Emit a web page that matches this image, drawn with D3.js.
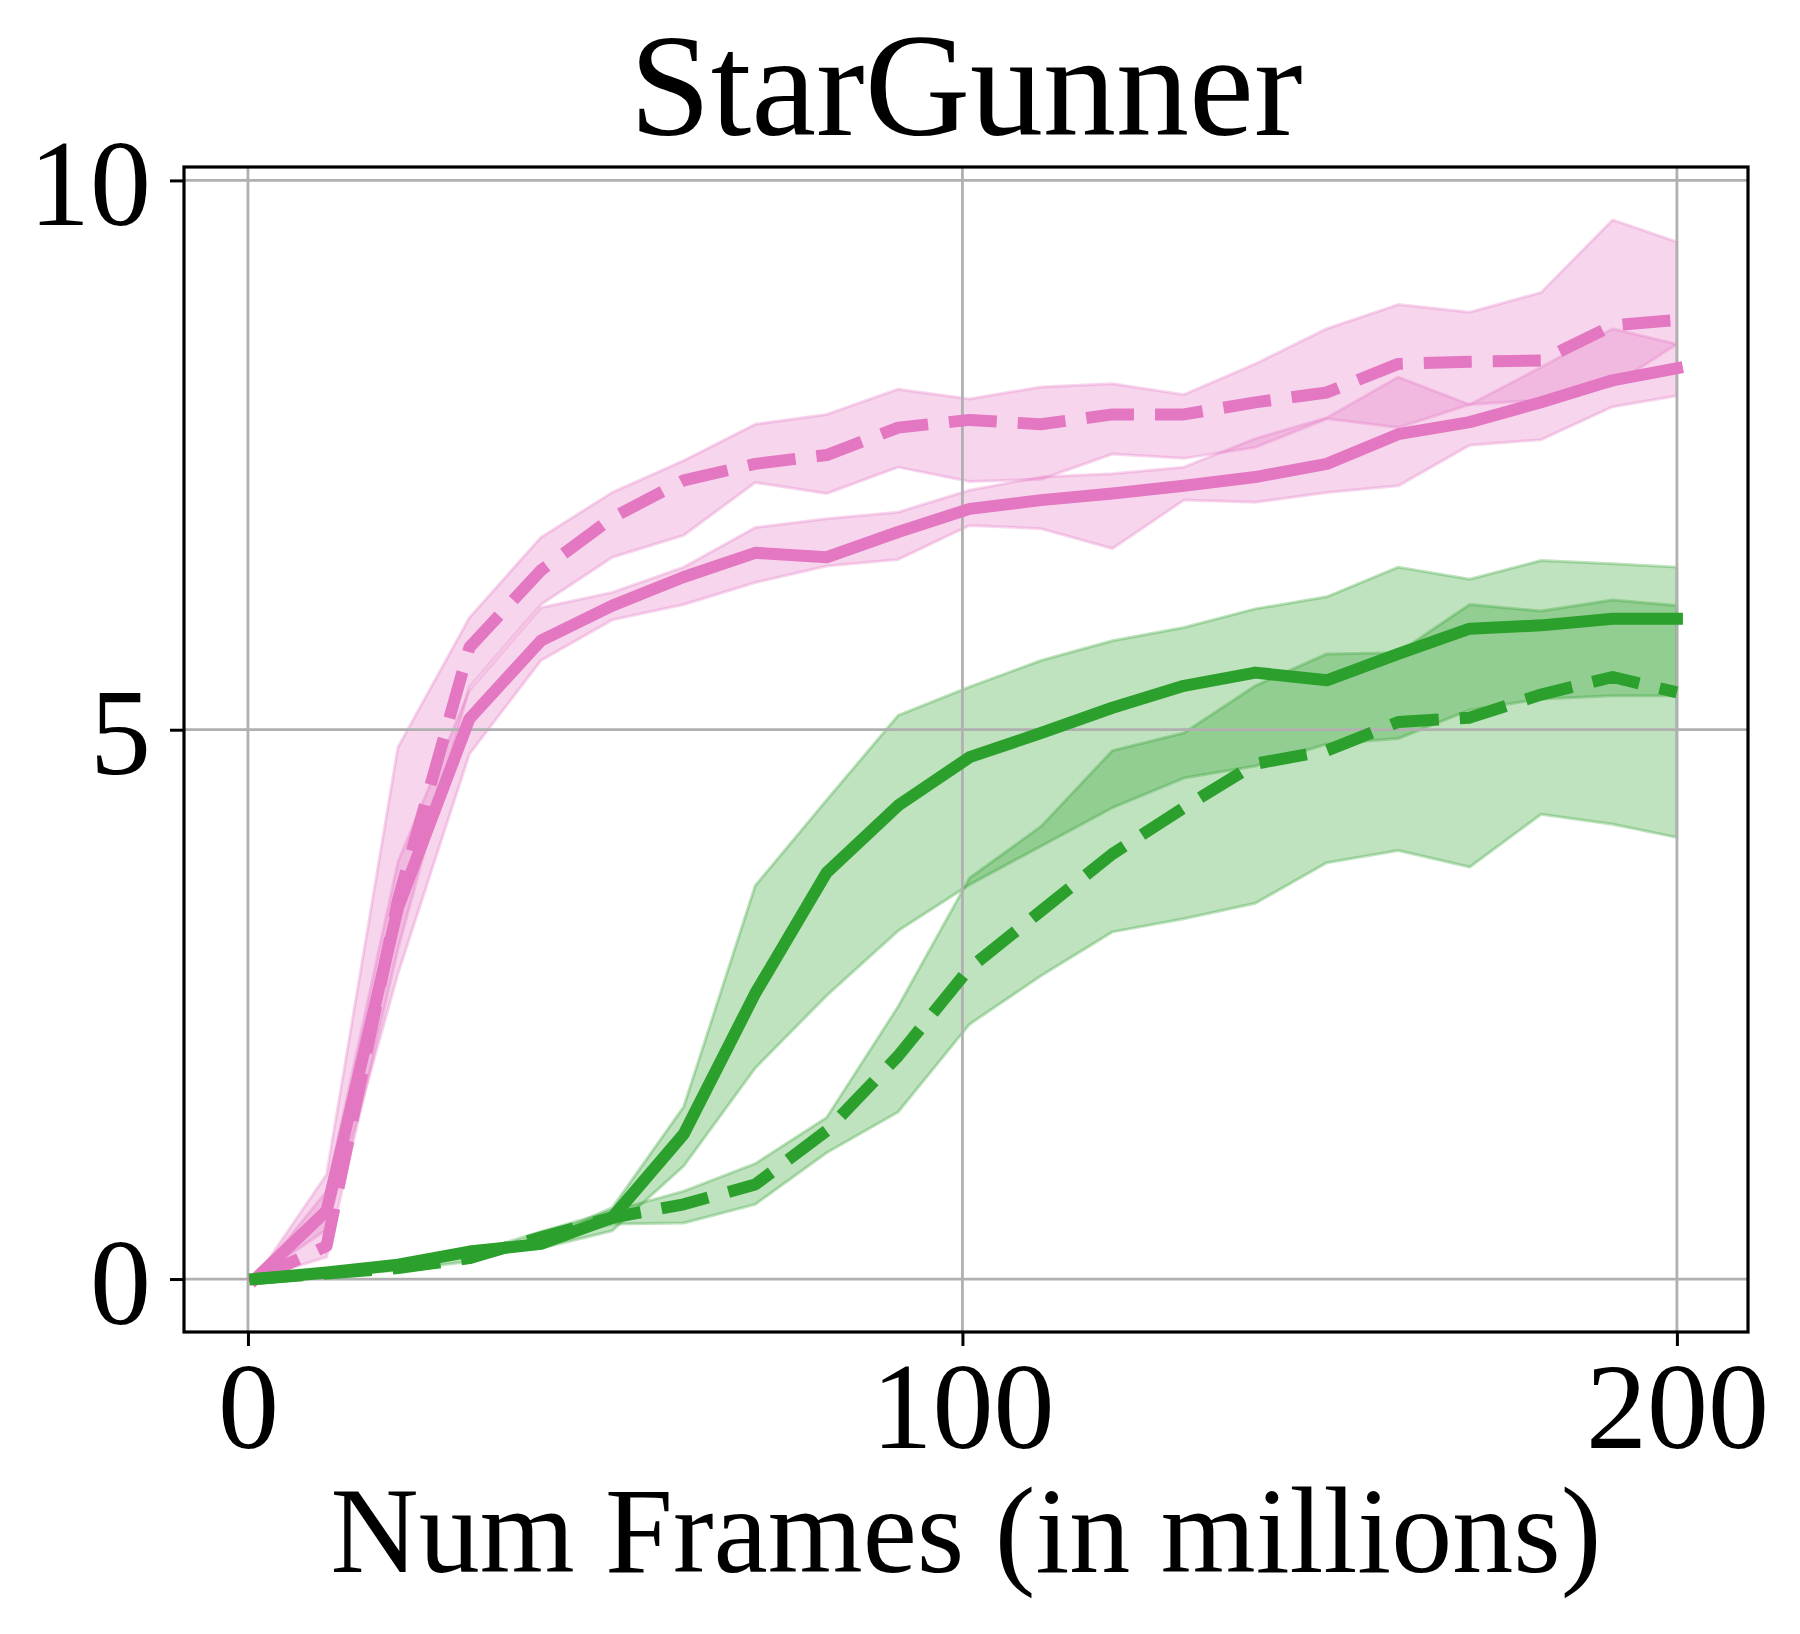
<!DOCTYPE html>
<html>
<head>
<meta charset="utf-8">
<script src="https://cdn.jsdelivr.net/npm/d3@7"></script>
<style>
  html, body { margin: 0; padding: 0; background: #ffffff; }
  svg { display: block; }
</style>
</head>
<body>
<svg id="chart" width="1800" height="1634"></svg>
<script>
// ---- data ----
const frames = [1, 11, 21, 31, 41, 51, 61, 71, 81, 91, 101, 111, 121, 131, 141, 151, 161, 171, 181, 191, 200];

const pinkSolidMean  = [0, 0.62, 3.38, 5.10, 5.81, 6.13, 6.39, 6.61, 6.57, 6.80, 7.01, 7.09, 7.15, 7.22, 7.30, 7.42, 7.69, 7.80, 7.98, 8.18, 8.29];
const pinkSolidLow   = [0, 0.45, 2.78, 4.78, 5.63, 6.00, 6.14, 6.34, 6.49, 6.55, 6.86, 6.83, 6.65, 7.09, 7.07, 7.16, 7.22, 7.59, 7.64, 7.94, 8.04];
const pinkSolidHigh  = [0, 0.80, 3.80, 5.36, 6.11, 6.25, 6.48, 6.84, 6.92, 6.98, 7.18, 7.30, 7.33, 7.39, 7.65, 7.84, 8.21, 7.96, 8.30, 8.65, 8.51];

const pinkDashMean   = [0, 0.30, 3.45, 5.75, 6.45, 6.93, 7.27, 7.42, 7.50, 7.75, 7.82, 7.78, 7.87, 7.87, 7.98, 8.07, 8.33, 8.35, 8.36, 8.68, 8.73];
const pinkDashLow    = [0, 0.20, 3.00, 5.39, 6.14, 6.57, 6.77, 7.25, 7.15, 7.39, 7.26, 7.28, 7.51, 7.47, 7.57, 7.83, 7.75, 7.96, 8.00, 8.13, 8.51];
const pinkDashHigh   = [0, 0.95, 4.84, 6.02, 6.75, 7.16, 7.45, 7.78, 7.87, 8.10, 8.01, 8.12, 8.15, 8.05, 8.33, 8.65, 8.87, 8.80, 8.98, 9.64, 9.44];

const greenSolidMean = [0, 0.06, 0.13, 0.25, 0.32, 0.56, 1.32, 2.60, 3.70, 4.31, 4.75, 4.97, 5.20, 5.40, 5.52, 5.45, 5.69, 5.92, 5.95, 6.01, 6.01];
const greenSolidLow  = [0, 0.04, 0.10, 0.21, 0.28, 0.44, 1.03, 1.92, 2.58, 3.17, 3.59, 3.94, 4.29, 4.56, 4.67, 4.87, 4.92, 5.18, 5.28, 5.31, 5.31];
const greenSolidHigh = [0, 0.08, 0.16, 0.29, 0.36, 0.65, 1.57, 3.58, 4.36, 5.13, 5.39, 5.63, 5.81, 5.93, 6.10, 6.21, 6.48, 6.37, 6.54, 6.51, 6.48];

const greenDashMean  = [0, 0.05, 0.10, 0.19, 0.38, 0.56, 0.68, 0.86, 1.35, 2.03, 2.83, 3.35, 3.87, 4.29, 4.69, 4.81, 5.07, 5.11, 5.32, 5.48, 5.34];
const greenDashLow   = [0, 0.03, 0.08, 0.16, 0.33, 0.50, 0.51, 0.68, 1.15, 1.52, 2.32, 2.76, 3.16, 3.28, 3.42, 3.79, 3.90, 3.75, 4.23, 4.14, 4.02];
const greenDashHigh  = [0, 0.07, 0.13, 0.23, 0.43, 0.62, 0.80, 1.05, 1.47, 2.48, 3.65, 4.12, 4.81, 4.97, 5.40, 5.69, 5.70, 6.14, 6.08, 6.18, 6.13];

const xTicks = [0, 100, 200];
const yTicks = [0, 5, 10];
const titleText = "StarGunner";
const xLabelText = "Num Frames (in millions)";

const PINK = "#e377c2", GREEN = "#2ca02c";
const series = [
  { color: PINK,  dashed: false, mean: pinkSolidMean,  low: pinkSolidLow,  high: pinkSolidHigh },
  { color: PINK,  dashed: true,  mean: pinkDashMean,   low: pinkDashLow,   high: pinkDashHigh },
  { color: GREEN, dashed: false, mean: greenSolidMean, low: greenSolidLow, high: greenSolidHigh },
  { color: GREEN, dashed: true,  mean: greenDashMean,  low: greenDashLow,  high: greenDashHigh }
];

// ---- layout ----
const L = 184, R = 1748, T = 167, B = 1332;
const FONT = "'Liberation Serif', 'Times New Roman', Times, serif";

const svg = d3.select("#chart");
svg.append("rect").attr("width", 1800).attr("height", 1634).attr("fill", "#fff");

const x = d3.scaleLinear().domain([-8.95, 209.95]).range([L, R]);
const y = d3.scaleLinear().domain([-0.482, 10.122]).range([B, T]);

svg.append("clipPath").attr("id", "clip")
  .append("rect").attr("x", L).attr("y", T).attr("width", R - L).attr("height", B - T);

const plot = svg.append("g").attr("clip-path", "url(#clip)");

// bands
series.forEach(s => {
  const pts = frames.map((f, i) => ({ f, lo: s.low[i], hi: s.high[i] }));
  const area = d3.area().x(d => x(d.f)).y0(d => y(d.lo)).y1(d => y(d.hi));
  plot.append("path").datum(pts).attr("d", area)
    .attr("fill", s.color).attr("fill-opacity", 0.3)
    .attr("stroke", s.color).attr("stroke-opacity", 0.3).attr("stroke-width", 3)
    .attr("stroke-linejoin", "round");
});

// grid
const grid = plot.append("g");
xTicks.forEach(t => grid.append("line")
  .attr("x1", x(t)).attr("x2", x(t)).attr("y1", T).attr("y2", B)
  .attr("stroke", "#b0b0b0").attr("stroke-width", 2.8));
yTicks.forEach(t => grid.append("line")
  .attr("x1", L).attr("x2", R).attr("y1", y(t)).attr("y2", y(t))
  .attr("stroke", "#b0b0b0").attr("stroke-width", 2.8));

// lines
series.forEach(s => {
  const pts = frames.map((f, i) => ({ f, v: s.mean[i] }));
  const line = d3.line().x(d => x(d.f)).y(d => y(d.v));
  const p = plot.append("path").datum(pts).attr("d", line)
    .attr("fill", "none").attr("stroke", s.color).attr("stroke-width", 12)
    .attr("stroke-linejoin", "round");
  if (s.dashed) p.attr("stroke-dasharray", "48,21").attr("stroke-linecap", "butt");
  else p.attr("stroke-linecap", "square");
});

// axes
const xAxis = svg.append("g").attr("transform", `translate(0,${B})`)
  .call(d3.axisBottom(x).tickValues(xTicks).tickSize(14).tickFormat(d3.format("d")));
xAxis.select(".domain").remove();
xAxis.selectAll(".tick line").attr("stroke", "#000").attr("stroke-width", 3);
xAxis.selectAll(".tick text").attr("y", 116).attr("dy", null)
  .attr("font-family", FONT).attr("font-size", 122).attr("fill", "#000");

const yAxis = svg.append("g").attr("transform", `translate(${L},0)`)
  .call(d3.axisLeft(y).tickValues(yTicks).tickSize(14).tickFormat(d3.format("d")));
yAxis.select(".domain").remove();
yAxis.selectAll(".tick line").attr("stroke", "#000").attr("stroke-width", 3);
yAxis.selectAll(".tick text").attr("x", -33).attr("y", 44).attr("dy", null)
  .attr("font-family", FONT).attr("font-size", 122).attr("fill", "#000");

// frame
svg.append("rect").attr("x", L).attr("y", T).attr("width", R - L).attr("height", B - T)
  .attr("fill", "none").attr("stroke", "#000").attr("stroke-width", 3.2);

// title and label
svg.append("text").attr("x", (L + R) / 2).attr("y", 135).attr("text-anchor", "middle")
  .attr("font-family", FONT).attr("font-size", 146).attr("fill", "#000").text(titleText);
svg.append("text").attr("x", (L + R) / 2).attr("y", 1572).attr("text-anchor", "middle")
  .attr("font-family", FONT).attr("font-size", 122).attr("fill", "#000").text(xLabelText);
</script>
</body>
</html>
